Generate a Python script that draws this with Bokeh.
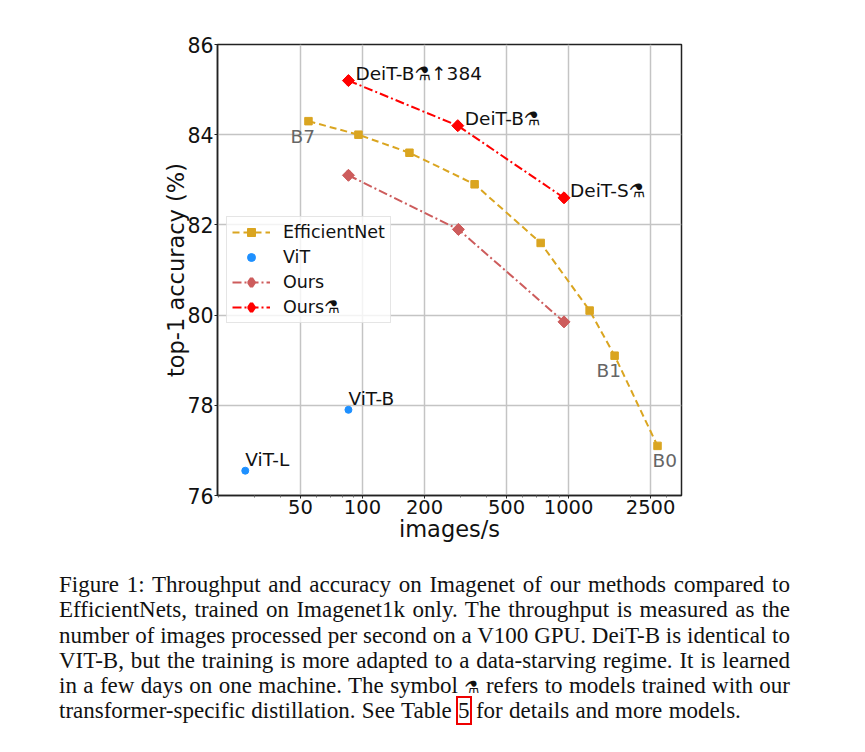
from bokeh.plotting import figure
from bokeh.embed import file_html
from bokeh.resources import INLINE
from bokeh.layouts import column
from bokeh.models import (FixedTicker, BasicTickFormatter, Legend, LegendItem, Div, Range1d)
from bokeh.core.properties import value

FLASK = "\u2697"
eff_x = [54.7, 95.6, 169, 350, 732, 1265, 1672, 2700]
eff_y = [84.3, 84.0, 83.6, 82.9, 81.6, 80.1, 79.1, 77.1]
vit_x = [27, 85.5]
vit_y = [76.55, 77.9]
ours_x = [85.5, 292, 950]
ours_y = [83.1, 81.9, 79.85]
dist_x = [85.5, 290, 950]
dist_y = [85.2, 84.2, 82.6]
dark_labels = [f"DeiT-B{FLASK}\u2191384", f"DeiT-B{FLASK}", f"DeiT-S{FLASK}"]
vit_labels = ["ViT-L", "ViT-B"]
eff_labels = ["B7", "B1", "B0"]
x_ticks = [50, 100, 200, 500, 1000, 2500]
x_minor = [20, 30, 40, 60, 70, 80, 90, 300, 400, 600, 700, 800, 900, 2000, 3000]
y_ticks = [76, 78, 80, 82, 84, 86]
caption = [
    "Figure 1: Throughput and accuracy on Imagenet of our methods compared to",
    "EfficientNets, trained on Imagenet1k only. The throughput is measured as the",
    "number of images processed per second on a V100 GPU. DeiT-B is identical to",
    "VIT-B, but the training is more adapted to a data-starving regime. It is learned",
    f"in a few days on one machine. The symbol {FLASK} refers to models trained with our",
    "transformer-specific distillation. See Table [5] for details and more models.",
]

FONT = "DejaVu Sans"
p = figure(width=857, height=572, x_axis_type="log", output_backend="svg", toolbar_location=None,
           x_range=Range1d(19.8, 3530), y_range=Range1d(76, 86),
           x_axis_label="images/s", y_axis_label="top-1 accuracy (%)",
           min_border_left=217, min_border_right=176, min_border_top=44, min_border_bottom=77)
p.outline_line_color = "#222222"
p.outline_line_width = 1.5
p.xaxis.ticker = FixedTicker(ticks=x_ticks, minor_ticks=x_minor)
p.xaxis.formatter = BasicTickFormatter(use_scientific=False)
p.yaxis.ticker = FixedTicker(ticks=y_ticks)
for ax in (p.xaxis, p.yaxis):
    ax.axis_line_color = "#222222"
    ax.axis_line_width = 1.5
    ax.major_tick_line_color = "#222222"
    ax.major_tick_in = 0
    ax.major_tick_out = 3
    ax.minor_tick_in = 0
    ax.major_label_standoff = 1
    ax.major_label_text_font = FONT
    ax.major_label_text_color = "#111111"
    ax.axis_label_text_font = FONT
    ax.axis_label_text_font_style = "normal"
    ax.axis_label_text_color = "#111111"
    ax.axis_label_text_font_size = "22.5px"
p.xaxis.major_label_text_font_size = "19.5px"
p.yaxis.major_label_text_font_size = "20.5px"
p.xaxis.minor_tick_out = 2
p.xaxis.minor_tick_line_color = "#666666"
p.yaxis.minor_tick_line_color = None
p.xaxis.axis_label_standoff = -1
p.yaxis.axis_label_standoff = -5
p.xgrid.grid_line_color = "#c4c4c4"
p.ygrid.grid_line_color = "#c4c4c4"
p.xgrid.grid_line_width = 1.5
p.ygrid.grid_line_width = 1.5

GOLD, BLUE, ROSE, RED = "goldenrod", "dodgerblue", "indianred", "red"
DIAMOND = 0.7854
l1 = p.line(eff_x, eff_y, line_color=GOLD, line_width=2, line_dash="7 4")
m1 = p.scatter(eff_x, eff_y, marker="square", size=7.5, color=GOLD)
m2 = p.scatter(vit_x, vit_y, marker="circle", size=7, color=BLUE)
l3 = p.line(ours_x, ours_y, line_color=ROSE, line_width=2, line_dash="9 3 2 3")
d3 = p.scatter(ours_x, ours_y, marker="diamond", size=8, line_width=3.5, color=ROSE)
m3 = p.scatter(ours_x, ours_y, marker="square", angle=DIAMOND, size=8.5, color=ROSE)
l4 = p.line(dist_x, dist_y, line_color=RED, line_width=2, line_dash="9 3 2 3")
d4 = p.scatter(dist_x, dist_y, marker="diamond", size=8, line_width=3.5, color=RED)
m4 = p.scatter(dist_x, dist_y, marker="square", angle=DIAMOND, size=8.5, color=RED)

tk = dict(text_font=value(FONT), text_font_size=value("18.5px"), text_baseline="middle", text_align="left")
p.text(x=dist_x, y=dist_y, text=dark_labels, x_offset=[7, 7, 6], y_offset=[-7, -7, -7], text_color="#111111", **tk)
p.text(x=vit_x, y=vit_y, text=vit_labels, x_offset=[0, 0], y_offset=[-11, -11], text_color="#111111", **tk)
p.text(x=[eff_x[0], eff_x[6], eff_x[7]], y=[eff_y[0], eff_y[6], eff_y[7]], text=eff_labels,
       x_offset=[-18, -18, -5], y_offset=[15, 15, 15], text_color="#666666", **tk)

legend = Legend(items=[
    LegendItem(label="EfficientNet", renderers=[l1, m1]),
    LegendItem(label="ViT", renderers=[m2]),
    LegendItem(label="Ours", renderers=[l3, d3]),
    LegendItem(label=f"Ours{FLASK}", renderers=[l4, d4]),
], location=(9, 172), orientation="vertical")
legend.label_text_font = FONT
legend.label_text_font_size = "17.5px"
legend.label_text_color = "#111111"
legend.glyph_width = 38
legend.glyph_height = 20
legend.label_height = 20
legend.label_standoff = 13
legend.spacing = 5
legend.padding = 5
legend.margin = 0
legend.border_line_color = "#cccccc"
legend.border_line_width = 1
legend.background_fill_alpha = 0.8
p.add_layout(legend, "center")

rows = []
for i, line in enumerate(caption):
    t = line.replace(FLASK, f'<span style="font-family:\'DejaVu Sans\';font-size:17px">{FLASK}</span>')
    t = t.replace("[5]", '<span style="outline:2px solid #ee0000;outline-offset:0">5</span>')
    is_last = i == len(caption) - 1
    last = "left" if is_last else "justify"
    ws = "word-spacing:0.6px;" if is_last else ""
    rows.append(f'<div style="width:731px;height:25.3px;line-height:25.3px;white-space:nowrap;{ws}'
                f'text-align:justify;text-align-last:{last}">{t}</div>')
div = Div(text="".join(rows), width=857, height=160,
          styles={"font-family": "'Liberation Serif'", "font-size": "23px", "color": "#111111",
                  "margin-left": "59px", "margin-top": "0px"})

page = column(p, div, spacing=0)
open("out.html", "w").write(file_html(page, INLINE))
